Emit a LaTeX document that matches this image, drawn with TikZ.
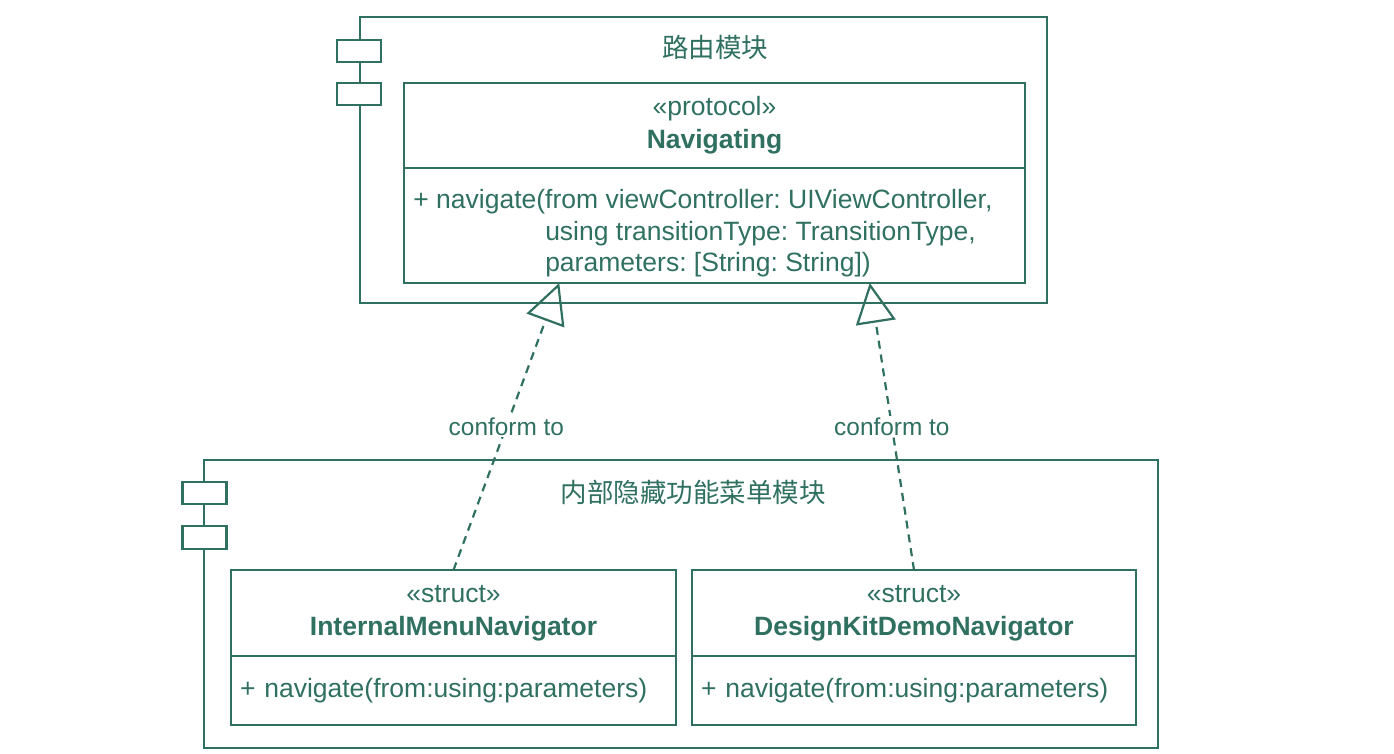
\documentclass[tikz,border=0pt]{standalone}
\usepackage{fontspec}
\setmainfont{Liberation Sans}
\newfontfamily\cjk{Noto Sans CJK SC}
\usetikzlibrary{arrows.meta,calc}
\definecolor{umlgreen}{RGB}{47,112,96}
\frenchspacing

\begin{document}
\begin{tikzpicture}[x=0.5pt,y=-0.5pt,
        every node/.style={text=umlgreen,font=\fontsize{13.25}{16.5}\selectfont},
        box/.style={draw=umlgreen,line width=1.1pt,inner sep=0pt,outer sep=0pt},
        tab/.style={box,fill=white,minimum width=22pt,minimum height=11.25pt},
        classhead/.style={box,align=center},
        classbody/.style={box,anchor=north,align=left,inner xsep=4.5pt},
        ops/.style={anchor=west,align=left,inner sep=0pt,font=\fontsize{13.25}{15.75}\selectfont},
        conform/.style={draw=umlgreen,line width=1.1pt,dash pattern=on 4pt off 3pt,
            -{Triangle[open,length=20pt,width=20pt]}},
        conflabel/.style={fill=white,inner sep=1pt,font=\fontsize{12.2}{14}\selectfont}]
    \useasboundingbox (0,0) rectangle (1394,754);

    \node[box,minimum width=343.5pt,minimum height=143pt](routing)at(703.5,160){};
    \node[tab](routingTabA)at(359,51){};
    \node[tab](routingTabB)at(359,94){};
    \node(routingTitle)at(715,47){\cjk 路由模块};

    \node[classhead,minimum width=310.5pt,minimum height=42.5pt](navHead)at(714.5,125.5)
        {«protocol»\\\textbf{Navigating}};
    \node[classbody,minimum width=310.5pt,minimum height=57.5pt](navBody)at(navHead.south){};
    \node[ops](navOps)at([xshift=4.5pt,yshift=-4pt]navBody.west)
        {+ navigate(from viewController: UIViewController,\\
         \phantom{+ navigate(}using transitionType: TransitionType,\\
         \phantom{+ navigate(}parameters: [String: String])};

    \node[box,minimum width=477pt,minimum height=144pt](menu)at(681,604){};
    \node[tab](menuTabA)at(204.5,493){};
    \node[tab](menuTabB)at(204.5,537.5){};
    \node(menuTitle)at(693,492){\cjk 内部隐藏功能菜单模块};

    \node[classhead,minimum width=222.5pt,minimum height=43pt](imnHead)at(453.5,613)
        {«struct»\\\textbf{InternalMenuNavigator}};
    \node[classbody,minimum width=222.5pt,minimum height=34.5pt,text width=213.5pt](imnBody)at(imnHead.south)
        {+ navigate(from:using:parameters)};

    \node[classhead,minimum width=222pt,minimum height=43pt](dkdHead)at(914,613)
        {«struct»\\\textbf{DesignKitDemoNavigator}};
    \node[classbody,minimum width=222pt,minimum height=34.5pt,text width=213pt](dkdBody)at(dkdHead.south)
        {+ navigate(from:using:parameters)};

    \draw[conform](imnHead.north)--node[conflabel]{conform to}($(navBody.south west)!0.25!(navBody.south east)$);
    \draw[conform](dkdHead.north)--node[conflabel]{conform to}($(navBody.south west)!0.75!(navBody.south east)$);
\end{tikzpicture}
\end{document}
